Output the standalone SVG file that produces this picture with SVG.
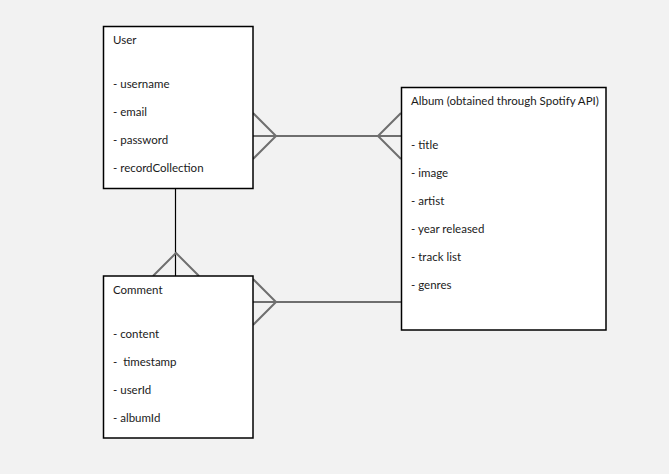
<svg xmlns="http://www.w3.org/2000/svg" width="669" height="474" viewBox="0 0 669 474">
<style>
.box{fill:#ffffff;stroke:#000000;stroke-width:1.5}
.t{font-family:"Source Sans Pro",Lato,"Liberation Sans",sans-serif;font-size:11.5px;fill:#1a1a1a}
.rel{fill:none;stroke:#6f6f6f;stroke-width:2}
.v{fill:none;stroke:#000000;stroke-width:1.2}
</style>
<rect x="0" y="0" width="669" height="474" fill="#f2f2f2"/>
<g id="connectors">
<line class="v" x1="175.5" y1="188.5" x2="175.5" y2="276"/>
<polyline class="rel" points="153,276 176,253 199,276"/>
<line class="rel" x1="253" y1="136" x2="401" y2="136"/>
<polyline class="rel" points="253,113 276,136 253,159"/>
<polyline class="rel" points="401,113 378,136 401,159"/>
<line class="rel" x1="253" y1="302" x2="401" y2="302"/>
<polyline class="rel" points="253,279 276,302 253,325"/>
</g>
<g id="user">
<rect class="box" x="103.5" y="26.5" width="149.5" height="162"/>
<text class="t" x="113" y="44">User</text>
<text class="t" x="113" y="88">- username</text>
<text class="t" x="113" y="116">- email</text>
<text class="t" x="113" y="144">- password</text>
<text class="t" x="113" y="172">- recordCollection</text>
</g>
<g id="comment">
<rect class="box" x="103.5" y="276" width="149.5" height="162"/>
<text class="t" x="113" y="294">Comment</text>
<text class="t" x="113" y="338">- content</text>
<text class="t" x="113" y="366" xml:space="preserve">-  timestamp</text>
<text class="t" x="113" y="394">- userId</text>
<text class="t" x="113" y="422">- albumId</text>
</g>
<g id="album">
<rect class="box" x="401.5" y="87.5" width="204.5" height="242.5"/>
<text class="t" x="411" y="105">Album (obtained through Spotify API)</text>
<text class="t" x="411" y="149">- title</text>
<text class="t" x="411" y="177">- image</text>
<text class="t" x="411" y="205">- artist</text>
<text class="t" x="411" y="233">- year released</text>
<text class="t" x="411" y="261">- track list</text>
<text class="t" x="411" y="289">- genres</text>
</g>
</svg>
